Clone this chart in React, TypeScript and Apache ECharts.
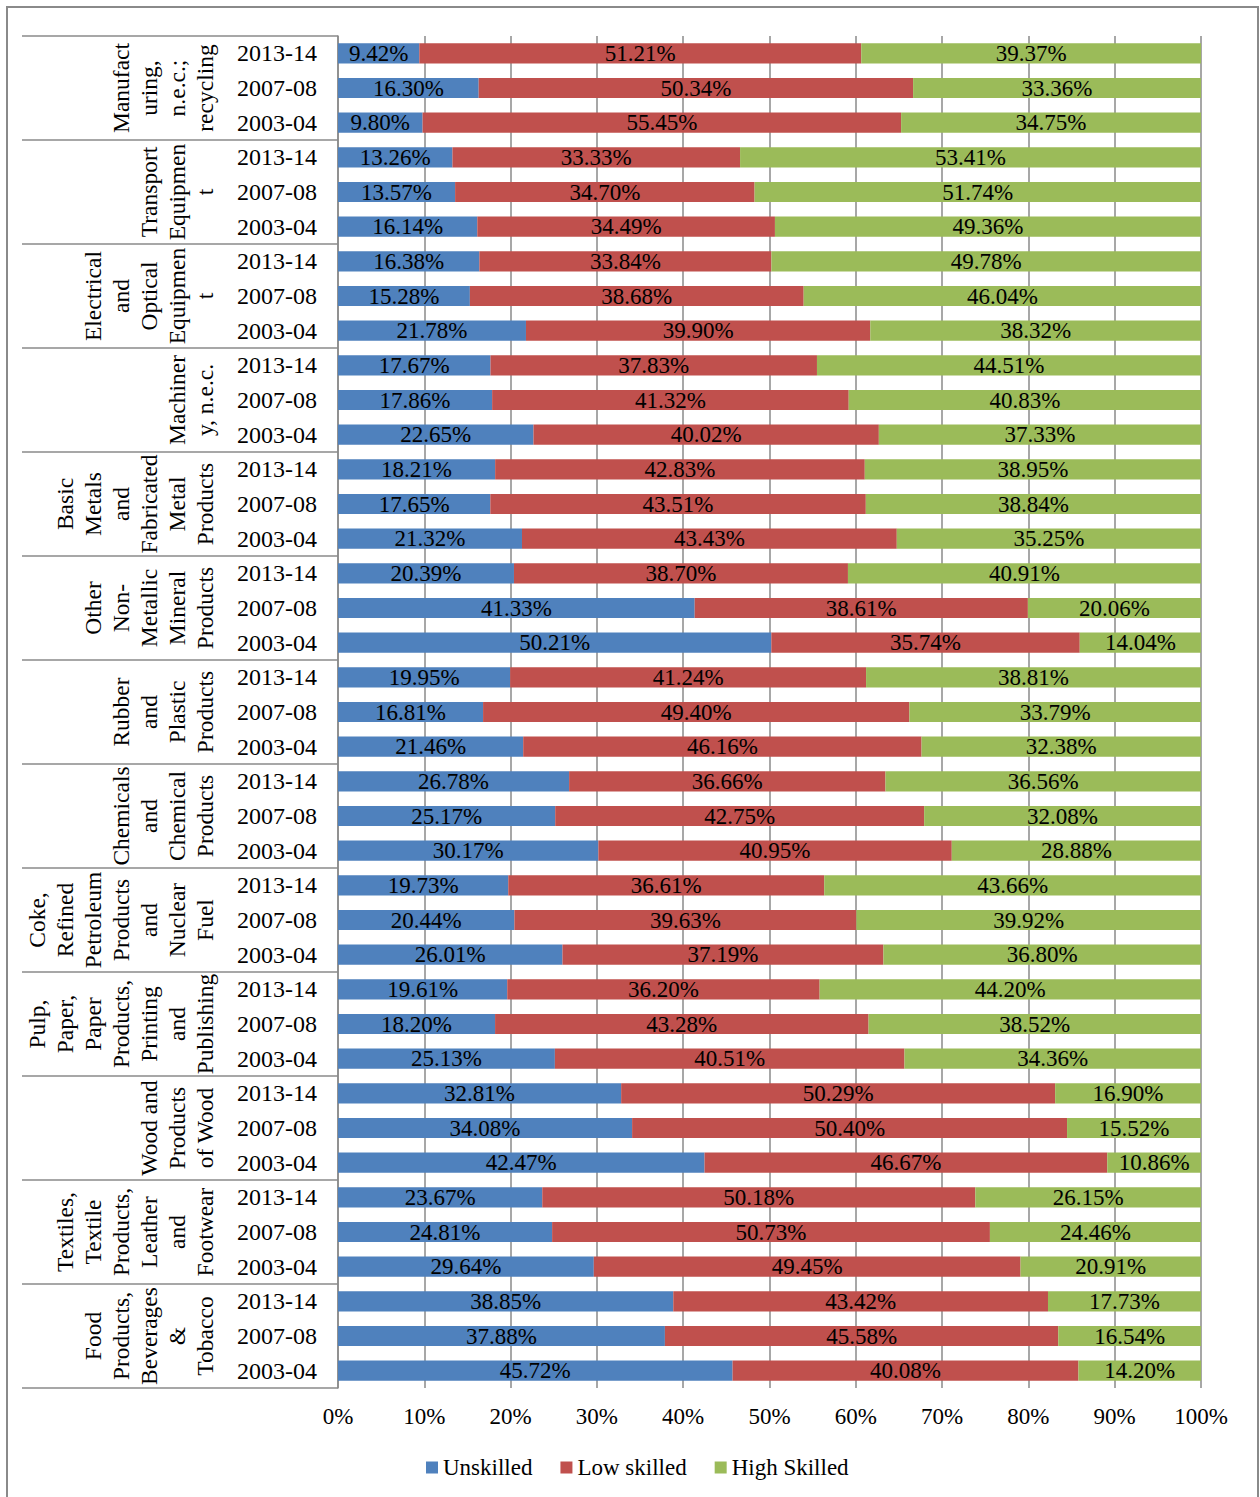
import React, { useEffect, useRef } from "react";
import * as echarts from "echarts";

const industries = [
  "Manufact\nuring,\nn.e.c.;\nrecycling",
  "Transport\nEquipmen\nt",
  "Electrical\nand\nOptical\nEquipmen\nt",
  "Machiner\ny, n.e.c.",
  "Basic\nMetals\nand\nFabricated\nMetal\nProducts",
  "Other\nNon-\nMetallic\nMineral\nProducts",
  "Rubber\nand\nPlastic\nProducts",
  "Chemicals\nand\nChemical\nProducts",
  "Coke,\nRefined\nPetroleum\nProducts\nand\nNuclear\nFuel",
  "Pulp,\nPaper,\nPaper\nProducts,\nPrinting\nand\nPublishing",
  "Wood and\nProducts\nof Wood",
  "Textiles,\nTextile\nProducts,\nLeather\nand\nFootwear",
  "Food\nProducts,\nBeverages\n&\nTobacco",
];

const periods = ["2013-14", "2007-08", "2003-04"];

const unskilled = [
  9.42, 16.3, 9.8, 13.26, 13.57, 16.14, 16.38, 15.28, 21.78, 17.67, 17.86, 22.65,
  18.21, 17.65, 21.32, 20.39, 41.33, 50.21, 19.95, 16.81, 21.46, 26.78, 25.17, 30.17,
  19.73, 20.44, 26.01, 19.61, 18.2, 25.13, 32.81, 34.08, 42.47, 23.67, 24.81, 29.64,
  38.85, 37.88, 45.72,
];

const lowSkilled = [
  51.21, 50.34, 55.45, 33.33, 34.7, 34.49, 33.84, 38.68, 39.9, 37.83, 41.32, 40.02,
  42.83, 43.51, 43.43, 38.7, 38.61, 35.74, 41.24, 49.4, 46.16, 36.66, 42.75, 40.95,
  36.61, 39.63, 37.19, 36.2, 43.28, 40.51, 50.29, 50.4, 46.67, 50.18, 50.73, 49.45,
  43.42, 45.58, 40.08,
];

const highSkilled = [
  39.37, 33.36, 34.75, 53.41, 51.74, 49.36, 49.78, 46.04, 38.32, 44.51, 40.83, 37.33,
  38.95, 38.84, 35.25, 40.91, 20.06, 14.04, 38.81, 33.79, 32.38, 36.56, 32.08, 28.88,
  43.66, 39.92, 36.8, 44.2, 38.52, 34.36, 16.9, 15.52, 10.86, 26.15, 24.46, 20.91,
  17.73, 16.54, 14.2,
];

const seriesNames = ["Unskilled", "Low skilled", "High Skilled"];
const seriesColors = ["#4F81BD", "#C0504D", "#9BBB59"];

const FONT = '"Liberation Serif", "Times New Roman", serif';

export default function App() {
  const ref = useRef<HTMLDivElement>(null);

  useEffect(() => {
    if (!ref.current) return;
    const chart = echarts.init(ref.current, undefined, { renderer: "svg" });
    const rowCats = industries.flatMap((ind, i) =>
      periods.map((p) => `${i}|${p}`)
    );
    const values = [unskilled, lowSkilled, highSkilled];
    const gray = "#8a8a8a";

    chart.setOption({
      animation: false,
      textStyle: { fontFamily: FONT, color: "#000" },
      graphic: [
        {
          type: "rect",
          shape: { x: 7, y: 7, width: 1251, height: 1500 },
          style: { fill: "none", stroke: gray, lineWidth: 2 },
          silent: true,
        },
      ],
      legend: {
        left: 421,
        top: 1451,
        icon: "rect",
        itemWidth: 12,
        itemHeight: 12,
        itemGap: 28,
        data: seriesNames,
        textStyle: { fontFamily: FONT, fontSize: 23, color: "#000" },
      },
      grid: { left: 338, right: 59, top: 36, bottom: 109 },
      xAxis: {
        type: "value",
        min: 0,
        max: 100,
        interval: 10,
        axisLine: { show: false },
        axisTick: { show: false },
        splitLine: { show: true, lineStyle: { color: gray, width: 1.5 } },
        axisLabel: {
          formatter: "{value}%",
          fontFamily: FONT,
          fontSize: 23,
          color: "#000",
          margin: 17,
        },
      },
      yAxis: [
        {
          type: "category",
          data: rowCats,
          inverse: true,
          position: "left",
          axisLine: { show: true, lineStyle: { color: gray, width: 1.5 } },
          axisTick: { show: false },
          axisLabel: {
            interval: 0,
            margin: 21,
            fontFamily: FONT,
            fontSize: 24,
            color: "#000",
            formatter: (v: string) => v.split("|")[1],
          },
        },
        {
          type: "category",
          data: industries,
          inverse: true,
          position: "left",
          offset: 0,
          axisLine: { show: false },
          axisTick: {
            show: true,
            interval: 0,
            length: 316,
            lineStyle: { color: gray, width: 1.5 },
          },
          axisLabel: {
            interval: 0,
            rotate: 90,
            margin: 119,
            fontFamily: FONT,
            fontSize: 23.5,
            lineHeight: 28,
            color: "#000",
          },
          splitLine: { show: false },
        },
      ],
      series: seriesNames.map((name, si) => ({
        name,
        type: "bar",
        stack: "total",
        yAxisIndex: 0,
        barCategoryGap: "42%",
        itemStyle: { color: seriesColors[si] },
        label: {
          show: true,
          position: "inside",
          fontFamily: FONT,
          fontSize: 23,
          color: "#000",
          formatter: (p: any) => `${Number(p.value).toFixed(2)}%`,
        },
        data: values[si],
      })),
    });

    return () => chart.dispose();
  }, []);

  return (
    <div
      ref={ref}
      style={{ position: "absolute", left: 0, top: 0, width: 1260, height: 1497 }}
    />
  );
}
